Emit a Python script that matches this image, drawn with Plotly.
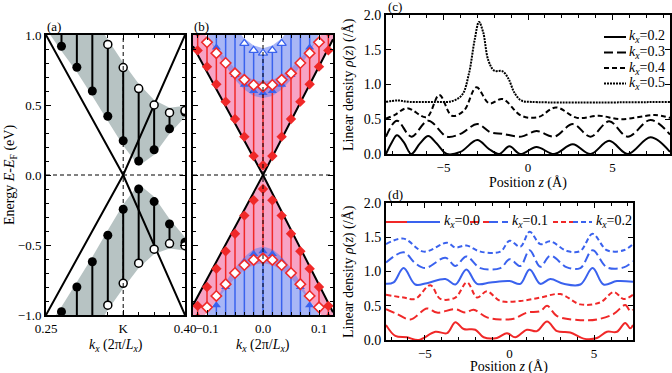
import plotly.graph_objects as go

SERIF = "Liberation Serif"
W, H = 672, 373

# ---------------- panel (a) : bands around K ----------------
k_a = [0.25, 0.2667, 0.2833, 0.30, 0.3167, 0.3333, 0.35, 0.3667, 0.3833, 0.40]
a_fill_up = [1.08, 0.92, 0.77, 0.60, 0.42, 0.245, 0.10, 0.18, 0.33, 0.45]
a_open_up = [1.62, 1.45, 1.27, 1.10, 0.933, 0.767, 0.617, 0.50, 0.445, 0.46]
a_fill_lo = [-1.14, -0.976, -0.80, -0.62, -0.43, -0.245, -0.10, -0.19, -0.35, -0.48]
a_open_lo = [-1.62, -1.45, -1.27, -1.10, -0.93, -0.774, -0.63, -0.53, -0.49, -0.505]
k_dirac_a = [0.25, 0.3333, 0.40]
e_dirac_a1 = [1.0, 0.0, -1.0]
e_dirac_a2 = [-1.0, 0.0, 1.0]
K_POINT = 0.3333

# ---------------- panel (b) : bands around kx=0 ----------------
k_b = [-0.1167, -0.1, -0.0833, -0.0667, -0.05, -0.0333, -0.0167, 0.0,
       0.0167, 0.0333, 0.05, 0.0667, 0.0833, 0.1, 0.1167]
b_red_fill_up = [0.89, 0.774, 0.648, 0.524, 0.40, 0.274, 0.136, 0.07,
                 0.136, 0.274, 0.40, 0.524, 0.648, 0.774, 0.89]
b_red_open_up = [1.03, 0.948, 0.87, 0.80, 0.726, 0.68, 0.643, 0.631,
                 0.643, 0.68, 0.726, 0.80, 0.87, 0.948, 1.03]
b_blue_fill_up = [1.14, 1.04, 0.91, 0.815, 0.715, 0.645, 0.60, 0.585,
                  0.60, 0.645, 0.715, 0.815, 0.91, 1.04, 1.14]
b_blue_open_up = [1.45, 1.32, 1.20, 1.10, 1.02, 0.94, 0.89, 0.87,
                  0.89, 0.94, 1.02, 1.10, 1.20, 1.32, 1.45]
b_red_fill_lo = [-0.935, -0.80, -0.67, -0.545, -0.42, -0.29, -0.18, -0.10,
                 -0.18, -0.29, -0.42, -0.545, -0.67, -0.80, -0.935]
b_red_open_lo = [-1.03, -0.945, -0.864, -0.78, -0.70, -0.643, -0.607, -0.595,
                 -0.607, -0.643, -0.70, -0.78, -0.864, -0.945, -1.03]
b_blue_fill_lo = [-1.12, -1.03, -0.93, -0.80, -0.70, -0.62, -0.565, -0.545,
                  -0.565, -0.62, -0.70, -0.80, -0.93, -1.03, -1.12]
b_blue_open_lo = [-1.45, -1.32, -1.20, -1.10, -1.05, -1.03, -1.03, -1.03,
                  -1.03, -1.03, -1.05, -1.10, -1.20, -1.32, -1.45]
k_dirac_b = [-0.125, 0.0, 0.125]
e_dirac_b_up = [0.92, 0.0, 0.97]
e_dirac_b_lo = [-0.93, 0.0, -0.98]

# ---------------- panel (c) : linear density ----------------
z_c02 = [-8.4, -8.05, -7.75, -7.35, -6.9, -6.4, -5.9, -5.4, -4.8, -4.0, -3.0, -2.3,
         -1.7, -1.1, -0.45, 0.5, 1.55, 2.65, 3.7, 4.8, 5.9, 7.25, 8.4]
rho_c02 = [0.0, 0.17, 0.27, 0.17, 0.0, 0.15, 0.26, 0.15, 0.0, 0.03, 0.20, 0.07,
           0.0, 0.11, 0.0, 0.10, 0.0, 0.14, 0.0, 0.19, 0.0, 0.24, 0.03]
z_c03 = [-8.4, -7.75, -6.9, -5.9, -4.8, -4.0, -3.0, -2.2, -1.5, -0.4, 0.5, 1.55,
         2.65, 3.7, 4.8, 5.9, 7.25, 8.4]
rho_c03 = [0.25, 0.48, 0.25, 0.48, 0.25, 0.29, 0.43, 0.31, 0.29, 0.25, 0.33, 0.25,
           0.43, 0.25, 0.47, 0.25, 0.49, 0.28]
z_c04 = [-8.4, -7.9, -7.15, -6.0, -5.25, -4.5, -3.8, -3.05, -2.3, -1.5, -0.4, 0.6,
         1.65, 2.9, 4.2, 5.5, 7.5, 8.4]
rho_c04 = [0.51, 0.56, 0.66, 0.53, 0.85, 0.55, 0.62, 0.96, 0.73, 0.79, 0.55, 0.53,
           0.67, 0.52, 0.55, 0.50, 0.56, 0.52]
z_c05 = [-8.4, -7.7, -7.0, -5.5, -4.5, -3.9, -3.5, -3.15, -2.9, -2.65, -2.35, -2.0,
         -1.5, -1.15, -0.8, -0.4, 0.2, 8.4]
rho_c05 = [0.75, 0.77, 0.75, 0.75, 0.76, 0.85, 1.15, 1.65, 1.90, 1.75, 1.35, 1.20,
           1.19, 1.08, 0.88, 0.77, 0.75, 0.75]
c_labels = ["0.2", "0.3", "0.4", "0.5"]

# ---------------- panel (d) : linear density, two valleys ----------------
z_db0 = [-7.3, -6.85, -6.26, -5.57, -4.88, -3.79, -3.2, -2.55, -1.92, -1.13, 0.01,
         0.64, 1.19, 1.82, 2.41, 3.2, 4.19, 4.91, 5.56, 6.35, 7.3]
rho_db0 = [0.82, 0.84, 1.05, 0.81, 0.83, 0.89, 0.81, 1.03, 0.82, 0.84, 0.86,
           0.82, 1.03, 0.82, 0.89, 0.82, 0.81, 1.05, 0.81, 0.86, 0.85]
z_db1 = [-7.3, -6.26, -5.57, -4.98, -3.79, -3.2, -2.55, -1.72, -0.54, 0.01, 0.64,
         1.19, 1.82, 2.41, 3.4, 4.19, 4.91, 5.76, 6.75, 7.3]
rho_db1 = [1.13, 1.28, 1.12, 1.05, 1.20, 1.08, 1.22, 1.05, 1.05, 1.18, 1.08,
           1.31, 1.07, 1.23, 1.06, 1.05, 1.31, 1.06, 1.06, 1.15]
z_db2 = [-7.3, -6.26, -5.07, -3.69, -3.2, -2.55, -1.72, -0.54, 0.01, 0.64, 1.19,
         1.82, 2.41, 3.4, 4.19, 4.91, 5.76, 6.75, 7.3]
rho_db2 = [1.40, 1.48, 1.29, 1.42, 1.35, 1.38, 1.29, 1.29, 1.45, 1.36, 1.58,
           1.40, 1.44, 1.30, 1.30, 1.55, 1.31, 1.31, 1.40]
z_dr0 = [-7.3, -6.75, -6.06, -5.37, -4.38, -3.69, -3.2, -2.71, -2.02, -1.53, -0.74,
         -0.15, 0.34, 1.03, 1.62, 2.22, 2.81, 3.59, 4.38, 5.17, 5.76, 6.35, 6.84, 7.14, 7.3]
rho_dr0 = [0.22, 0.06, 0.04, 0.0, 0.12, 0.10, 0.26, 0.16, 0.15, 0.04, 0.03,
           0.10, 0.04, 0.15, 0.13, 0.27, 0.13, 0.11, 0.02, 0.03, 0.12, 0.12, 0.25, 0.17, 0.22]
z_dr1 = [-7.3, -6.65, -5.86, -4.88, -4.29, -3.2, -2.61, -2.12, -1.33, -0.54, 0.25,
         1.03, 1.82, 2.22, 2.81, 4.19, 5.17, 6.16, 6.84, 7.14, 7.3]
rho_dr1 = [0.45, 0.38, 0.30, 0.46, 0.40, 0.45, 0.40, 0.44, 0.33, 0.30, 0.31,
           0.40, 0.42, 0.50, 0.35, 0.29, 0.30, 0.38, 0.51, 0.42, 0.44]
z_dr2 = [-7.3, -6.26, -5.57, -4.68, -4.09, -3.2, -2.51, -1.92, -1.33, -0.54, 0.64,
         1.82, 3.0, 4.19, 5.37, 6.16, 6.75, 7.3]
rho_dr2 = [0.66, 0.62, 0.60, 0.80, 0.60, 0.62, 0.84, 0.62, 0.71, 0.57, 0.57,
           0.62, 0.67, 0.52, 0.55, 0.70, 0.60, 0.66]
d_labels = ["0.0", "0.1", "0.2"]

RED = "#f02828"
BLUE = "#3a62ee"
GRAY = "#b7c3c3"
PINK = "#f7a3c4"
BLUE_FILL = "rgba(105,130,240,0.58)"
PAD = 0.035
E_OUT = 1.2


def stems(k, e1, e2):
    xs, ys = [], []
    for kk, a, b in zip(k, e1, e2):
        xs += [kk, kk, None]
        ys += [a, b, None]
    return xs, ys


def px_x(p):
    return p / W


def px_y(p):
    return 1 - p / H


fig = go.Figure()

# ---- (a) ----
fig.add_trace(go.Scatter(x=k_a + k_a[::-1],
                         y=[v - PAD for v in a_fill_up] + [v + PAD for v in a_open_up][::-1],
                         fill="toself", fillcolor=GRAY, mode="none", xaxis="x", yaxis="y"))
fig.add_trace(go.Scatter(x=k_a + k_a[::-1],
                         y=[v + PAD for v in a_fill_lo] + [v - PAD for v in a_open_lo][::-1],
                         fill="toself", fillcolor=GRAY, mode="none", xaxis="x", yaxis="y"))
for e in (e_dirac_a1, e_dirac_a2):
    fig.add_trace(go.Scatter(x=k_dirac_a, y=e, mode="lines", line=dict(color="black", width=2),
                             xaxis="x", yaxis="y"))
for f, o in ((a_fill_up, a_open_up), (a_fill_lo, a_open_lo)):
    sx, sy = stems(k_a, f, o)
    fig.add_trace(go.Scatter(x=sx, y=sy, mode="lines", line=dict(color="black", width=2),
                             xaxis="x", yaxis="y"))
    fig.add_trace(go.Scatter(x=k_a, y=f, mode="markers",
                             marker=dict(symbol="circle", size=9, color="black"),
                             xaxis="x", yaxis="y"))
    fig.add_trace(go.Scatter(x=k_a, y=o, mode="markers",
                             marker=dict(symbol="circle", size=8, color="white",
                                         line=dict(color="black", width=1.5)),
                             xaxis="x", yaxis="y"))

# ---- (b) ----
fig.add_trace(go.Scatter(x=k_dirac_b + [k_dirac_b[-1]] + k_b[::-1] + [k_dirac_b[0]],
                         y=e_dirac_b_up + [E_OUT] + [v + PAD for v in b_red_open_up][::-1] + [E_OUT],
                         fill="toself", fillcolor=PINK, mode="none", xaxis="x2", yaxis="y2"))
fig.add_trace(go.Scatter(x=k_dirac_b + [k_dirac_b[-1]] + k_b[::-1] + [k_dirac_b[0]],
                         y=e_dirac_b_lo + [-E_OUT] + [v - PAD for v in b_red_open_lo][::-1] + [-E_OUT],
                         fill="toself", fillcolor=PINK, mode="none", xaxis="x2", yaxis="y2"))
fig.add_trace(go.Scatter(x=k_b + k_b[::-1],
                         y=[v - PAD for v in b_blue_fill_up] + [v + PAD for v in b_blue_open_up][::-1],
                         fill="toself", fillcolor=BLUE_FILL, mode="none", xaxis="x2", yaxis="y2"))
fig.add_trace(go.Scatter(x=k_b + k_b[::-1],
                         y=[v + PAD for v in b_blue_fill_lo] + [v - PAD for v in b_blue_open_lo][::-1],
                         fill="toself", fillcolor=BLUE_FILL, mode="none", xaxis="x2", yaxis="y2"))
for f, o in ((b_blue_fill_up, b_blue_open_up), (b_blue_fill_lo, b_blue_open_lo)):
    sx, sy = stems(k_b, f, o)
    fig.add_trace(go.Scatter(x=sx, y=sy, mode="lines", line=dict(color=BLUE, width=1.5),
                             xaxis="x2", yaxis="y2"))
for f, o in ((b_red_fill_up, b_red_open_up), (b_red_fill_lo, b_red_open_lo)):
    sx, sy = stems(k_b, f, o)
    fig.add_trace(go.Scatter(x=sx, y=sy, mode="lines", line=dict(color=RED, width=1.5),
                             xaxis="x2", yaxis="y2"))
for e in (e_dirac_b_up, e_dirac_b_lo):
    fig.add_trace(go.Scatter(x=k_dirac_b, y=e, mode="lines", line=dict(color="black", width=2),
                             xaxis="x2", yaxis="y2"))
for f, o in ((b_blue_fill_up, b_blue_open_up), (b_blue_fill_lo, b_blue_open_lo)):
    fig.add_trace(go.Scatter(x=k_b, y=f, mode="markers",
                             marker=dict(symbol="triangle-up", size=8, color=BLUE),
                             xaxis="x2", yaxis="y2"))
    fig.add_trace(go.Scatter(x=k_b, y=o, mode="markers",
                             marker=dict(symbol="triangle-up", size=8, color="white",
                                         line=dict(color=BLUE, width=1.3)),
                             xaxis="x2", yaxis="y2"))
for f, o in ((b_red_fill_up, b_red_open_up), (b_red_fill_lo, b_red_open_lo)):
    fig.add_trace(go.Scatter(x=k_b, y=f, mode="markers",
                             marker=dict(symbol="diamond", size=8, color=RED),
                             xaxis="x2", yaxis="y2"))
    fig.add_trace(go.Scatter(x=k_b, y=o, mode="markers",
                             marker=dict(symbol="diamond", size=8, color="white",
                                         line=dict(color=RED, width=1.6)),
                             xaxis="x2", yaxis="y2"))

# ---- (c) ----
c_series = [(z_c02, rho_c02, "solid"), (z_c03, rho_c03, "9px,4px"),
            (z_c04, rho_c04, "5px,3px"), (z_c05, rho_c05, "2px,1px")]
for z, r, d in c_series:
    fig.add_trace(go.Scatter(x=z, y=r, mode="lines", line=dict(color="black", width=2, dash=d,
                                                              shape="spline", smoothing=1.0),
                             xaxis="x3", yaxis="y3"))

# ---- (d) ----
d_series = [(z_dr0, rho_dr0, RED, "solid"), (z_dr1, rho_dr1, RED, "9px,4px"),
            (z_dr2, rho_dr2, RED, "5px,3px"), (z_db0, rho_db0, BLUE, "solid"),
            (z_db1, rho_db1, BLUE, "9px,4px"), (z_db2, rho_db2, BLUE, "5px,3px")]
for z, r, c, d in d_series:
    fig.add_trace(go.Scatter(x=z, y=r, mode="lines", line=dict(color=c, width=2, dash=d,
                                                              shape="spline", smoothing=1.0),
                             xaxis="x4", yaxis="y4"))


def axis(domain, rng, anchor, size=13, **kw):
    d = dict(domain=domain, range=rng, anchor=anchor, showline=True, linecolor="black",
             linewidth=2, mirror="allticks", ticks="inside", ticklen=5, tickwidth=1.2,
             tickcolor="black", showgrid=False, zeroline=False, automargin=False,
             tickfont=dict(family=SERIF, size=size, color="black"))
    d.update(kw)
    return d


minor_e = dict(ticks="inside", ticklen=3, tickcolor="black", dtick=0.1, tick0=0)
dom_ab_y = [px_y(315), px_y(35)]

fig.update_layout(
    width=W, height=H, template="none", showlegend=False,
    margin=dict(l=0, r=0, t=0, b=0), paper_bgcolor="white", plot_bgcolor="white",
    font=dict(family=SERIF, size=13, color="black"),
    xaxis=axis([px_x(46), px_x(185)], [0.25, 0.40], "y", tickmode="array",
               tickvals=[0.25, K_POINT, 0.40], ticktext=["0.25", "K", "0.40"],
               minor=dict(ticks="inside", ticklen=3, tickcolor="black", tickmode="linear",
                          tick0=0.25, dtick=1 / 60)),
    yaxis=axis(dom_ab_y, [-1.0, 1.0], "x", dtick=0.5, tickformat=".1f", minor=minor_e),
    xaxis2=axis([px_x(193), px_x(333)], [-0.125, 0.125], "y2", dtick=0.1, tickformat=".1f",
                minor=dict(ticks="inside", ticklen=3, tickcolor="black", tick0=0, dtick=1 / 60)),
    yaxis2=axis(dom_ab_y, [-1.0, 1.0], "x2", dtick=0.5, showticklabels=False, minor=minor_e),
    xaxis3=axis([px_x(386), px_x(670)], [-8.4, 8.4], "y3", size=13, dtick=5,
                minor=dict(ticks="inside", ticklen=3, tickcolor="black", dtick=1)),
    yaxis3=axis([px_y(154), px_y(15)], [0, 2.0], "x3", size=14, dtick=0.5, tickformat=".1f"),
    xaxis4=axis([px_x(386), px_x(633)], [-7.3, 7.3], "y4", size=13, dtick=5,
                minor=dict(ticks="inside", ticklen=3, tickcolor="black", dtick=1)),
    yaxis4=axis([px_y(340), px_y(203)], [0, 2.0], "x4", size=14, dtick=0.5, tickformat=".1f"),
)

# dashed guide lines
dash_line = dict(color="black", width=1, dash="4px,3px")
fig.add_shape(type="line", xref="x", yref="y domain", x0=K_POINT, x1=K_POINT, y0=0, y1=1, line=dash_line)
fig.add_shape(type="line", xref="x domain", yref="y", x0=0, x1=1, y0=0, y1=0, line=dash_line)
fig.add_shape(type="line", xref="x2", yref="y2 domain", x0=0, x1=0, y0=0, y1=1, line=dash_line)
fig.add_shape(type="line", xref="x2 domain", yref="y2", x0=0, x1=1, y0=0, y1=0, line=dash_line)

# legend of (c)
c_dash = ["solid", "9px,4px", "5px,3px", "2px,1px"]
for i, (lab, d) in enumerate(zip(c_labels, c_dash)):
    yy = px_y(37 + 15.5 * i)
    fig.add_shape(type="line", xref="paper", yref="paper", x0=px_x(604), x1=px_x(626),
                  y0=yy, y1=yy, line=dict(color="black", width=2, dash=d))
    fig.add_annotation(xref="paper", yref="paper", x=px_x(627), y=yy, xanchor="left",
                       yanchor="middle", showarrow=False,
                       text="<i>k<sub>x</sub></i>=" + lab, font=dict(family=SERIF, size=14))

# legend of (d)
d_leg = [(386, 407, 440, "solid"), (470, 489, 508, "9px,4px"), (553, 573, 592, "5px,3px")]
for (x0, xm, x1, d), lab in zip(d_leg, d_labels):
    yy = px_y(222)
    fig.add_shape(type="line", xref="paper", yref="paper", x0=px_x(x0), x1=px_x(xm),
                  y0=yy, y1=yy, line=dict(color=RED, width=2, dash=d))
    fig.add_shape(type="line", xref="paper", yref="paper", x0=px_x(xm), x1=px_x(x1),
                  y0=yy, y1=yy, line=dict(color=BLUE, width=2, dash=d))
    fig.add_annotation(xref="paper", yref="paper", x=px_x(x1 + 2), y=yy, xanchor="left",
                       yanchor="middle", showarrow=False,
                       text="<i>k<sub>x</sub></i>=" + lab, font=dict(family=SERIF, size=14))

# panel labels
for lab, x, y in (("(a)", 46, 35), ("(b)", 193, 35), ("(c)", 387, 15), ("(d)", 387, 203)):
    fig.add_annotation(xref="paper", yref="paper", x=px_x(x), y=px_y(y), xanchor="left",
                       yanchor="bottom", showarrow=False, text=lab,
                       font=dict(family=SERIF, size=13), borderpad=0)

# axis titles
kx_title = "<i>k<sub>x</sub></i> (2π/<i>L<sub>x</sub></i>)"
titles = [
    (kx_title, 116, 345, 0), (kx_title, 263, 345, 0),
    ("Position <i>z</i> (Å)", 528, 183, 0), ("Position <i>z</i> (Å)", 509, 367, 0),
    ("Energy <i>E</i>-<i>E</i><sub>F</sub> (eV)", 10, 175, -90),
    ("Linear density <i>ρ</i>(<i>z</i>) (/Å)", 349, 85, -90),
    ("Linear density <i>ρ</i>(<i>z</i>) (/Å)", 349, 272, -90),
]
for txt, x, y, ang in titles:
    fig.add_annotation(xref="paper", yref="paper", x=px_x(x), y=px_y(y), xanchor="center",
                       yanchor="middle", showarrow=False, text=txt, textangle=ang,
                       font=dict(family=SERIF, size=14), borderpad=0)

fig.write_html("out.html", config={"displayModeBar": False},
               post_script="document.body.style.margin='0';")
